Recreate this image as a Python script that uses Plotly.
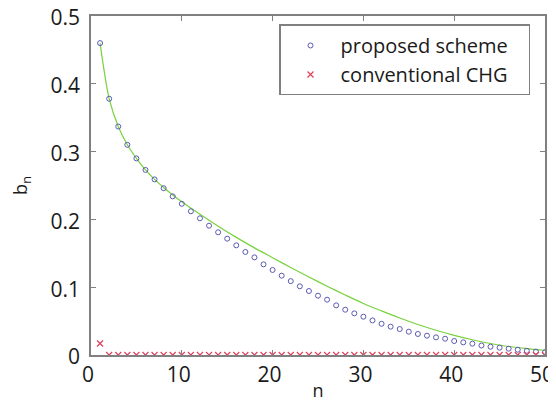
import plotly.graph_objects as go

n = list(range(1, 51))
proposed = [0.460, 0.378, 0.337, 0.310, 0.290, 0.273, 0.259, 0.246, 0.234, 0.223,
            0.212, 0.2016, 0.1907, 0.181, 0.1716, 0.1618, 0.152, 0.144, 0.1337, 0.1254,
            0.117, 0.109, 0.1013, 0.0944, 0.0875, 0.0816, 0.0732, 0.0668, 0.0614, 0.0565,
            0.051, 0.046, 0.0418, 0.0383, 0.0344, 0.031, 0.0285, 0.026, 0.024, 0.0206,
            0.0187, 0.0167, 0.0140, 0.0122, 0.0108, 0.0093, 0.0078, 0.0062, 0.0050, 0.0042]
conventional = [0.017] + [0.0] * 49

curve_n = [1, 2, 3, 4, 5, 6, 7, 8, 9, 10, 12, 14, 16, 18, 20, 22, 24, 26, 28, 30,
           32, 34, 36, 38, 40, 42, 44, 46, 48, 50]
curve_b = [0.460, 0.378, 0.337, 0.310, 0.290, 0.273, 0.259, 0.247, 0.236, 0.226,
           0.2075, 0.190, 0.1735, 0.158, 0.1435, 0.1290, 0.115, 0.1015, 0.0885, 0.076,
           0.065, 0.0545, 0.045, 0.0365, 0.029, 0.0225, 0.017, 0.0125, 0.0095, 0.007]

x_ticks = [0, 10, 20, 30, 40, 50]
y_ticks = [0, 0.1, 0.2, 0.3, 0.4, 0.5]
y_labels = ["0", "0.1", "0.2", "0.3", "0.4", "0.5"]

FONT = "Open Sans"
TXT = "#1a1a1a"
PAD = "\u00a0\u00a0\u00a0"

fig = go.Figure()
fig.add_trace(go.Scatter(x=curve_n, y=curve_b, mode="lines", line=dict(color="#78d23c", width=1.2),
                         line_shape="spline", line_smoothing=0.8, showlegend=False))
fig.add_trace(go.Scatter(x=n, y=proposed, mode="markers", name="proposed scheme" + PAD,
                         marker=dict(symbol="circle-open", size=5, color="#5a5ab4", line=dict(width=1))))
fig.add_trace(go.Scatter(x=n, y=conventional, mode="markers", name="conventional CHG" + PAD,
                         marker=dict(symbol="x-thin-open", size=6, color="#e0405a", line=dict(width=1.2))))

axis_common = dict(showgrid=False, zeroline=False, showline=True, linecolor="#808080", linewidth=1.5,
                   mirror="ticks", ticks="inside", ticklen=5, tickcolor="#808080", tickwidth=1,
                   automargin=False, ticklabeloverflow="allow",
                   tickfont=dict(family=FONT, size=21, color=TXT))
fig.update_xaxes(range=[0, 50], tickvals=x_ticks, ticklabelstandoff=0, ticklabelshift=-3,
                 title=dict(text="n", font=dict(family=FONT, size=18, color=TXT), standoff=4), **axis_common)
fig.update_yaxes(range=[0, 0.5], tickvals=y_ticks, ticktext=y_labels, ticklabelstandoff=5, ticklabelshift=2,
                 title=dict(text="b<sub>n</sub>", font=dict(family=FONT, size=18, color=TXT), standoff=19), **axis_common)

fig.update_layout(
    width=548, height=394,
    margin=dict(l=83, r=11, t=8, b=47),
    plot_bgcolor="white", paper_bgcolor="white",
    font=dict(family=FONT, size=20, color=TXT),
    legend=dict(x=0.967, y=0.975, xanchor="right", yanchor="top", bgcolor="white",
                bordercolor="#808080", borderwidth=1.5, font=dict(family=FONT, size=20, color=TXT),
                itemwidth=50, tracegroupgap=0),
)

fig.write_html("out.html")
